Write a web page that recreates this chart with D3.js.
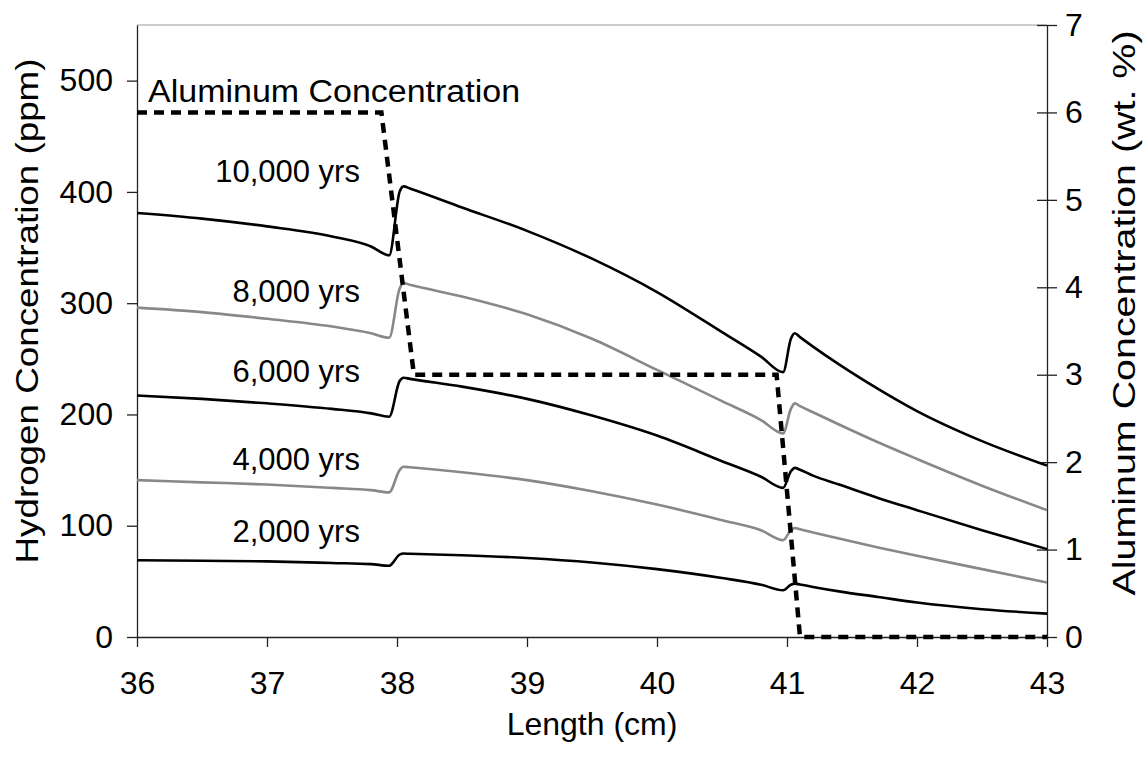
<!DOCTYPE html>
<html><head><meta charset="utf-8">
<script src="https://cdn.jsdelivr.net/npm/d3@7"></script>
<style>
body{margin:0;background:#fff}
text{font-family:"Liberation Sans",Arial,sans-serif;fill:#000}
</style>
</head><body>
<svg id="c" width="1148" height="759"></svg>
<script>
// ---- data ----
const xTicks = [36, 37, 38, 39, 40, 41, 42, 43];
const hTicks = [0, 100, 200, 300, 400, 500];
const alTicks = [0, 1, 2, 3, 4, 5, 6, 7];
const lengthCm = [36, 36.5, 37, 37.5, 37.8, 37.94, 38.02, 38.05, 38.1, 38.5, 39, 39.5, 40, 40.5, 40.8, 40.97, 41.03, 41.06, 41.1, 41.2, 41.4, 41.7, 42, 42.5, 43];
const h10000 = [381, 376, 369, 360, 351, 343, 400, 405, 403, 386, 365, 340, 310, 274, 252, 238, 268, 273, 269.5, 261, 245, 223, 203, 176, 154];
const h8000  = [296, 292, 286, 279, 273, 269, 313, 318, 316.5, 306, 290, 268, 240, 212, 195, 183, 205, 210, 207.5, 202, 191, 175, 160, 136, 114];
const h6000  = [217, 214, 210, 205, 201, 198, 230, 233, 232, 225, 214, 199, 181, 158, 144, 134, 149, 152, 150.3, 145, 137, 125, 114, 96, 79];
const h4000  = [141, 139, 137, 134, 132, 130, 150, 153, 152.5, 148, 141, 131, 119, 105, 96, 87, 96, 98, 96.8, 94, 88.5, 80.5, 73, 61, 49];
const h2000  = [69, 68.5, 68, 66.5, 65.5, 64, 74, 75, 74.8, 73.5, 71, 67, 61, 53, 47, 42, 47, 48, 47.2, 45, 41, 36, 31, 25, 21];
const seriesNames = ["10,000 yrs", "8,000 yrs", "6,000 yrs", "4,000 yrs", "2,000 yrs"];
const alLength = [36, 37.88, 38.13, 40.92, 41.1, 43];
const alWt = [6, 6, 3, 3, 0, 0];

// ---- layout ----
const svg = d3.select("#c");
const L = 137, R = 1047, T = 25, B = 637;
const x = d3.scaleLinear().domain([36, 43]).range([L, R]);
const yH = d3.scaleLinear().domain([0, 550]).range([B, T]);
const yA = d3.scaleLinear().domain([0, 7]).range([B, T]);

// frame top
svg.append("line").attr("x1", L).attr("x2", R).attr("y1", T).attr("y2", T)
  .attr("stroke", "#999").attr("stroke-width", 1.2);

const fs = 32;
const fmt = d3.format("d");
// x axis
const gx = svg.append("g").attr("transform", `translate(0,${B})`)
  .call(d3.axisBottom(x).tickValues(xTicks).tickFormat(fmt).tickSize(10).tickSizeOuter(0).tickPadding(24));
// left axis
const gl = svg.append("g").attr("transform", `translate(${L},0)`)
  .call(d3.axisLeft(yH).tickValues(hTicks).tickFormat(fmt).tickSize(10).tickSizeOuter(0).tickPadding(14));
// right axis (cross ticks)
const gr = svg.append("g").attr("transform", `translate(${R},0)`)
  .call(d3.axisRight(yA).tickValues(alTicks).tickFormat(fmt).tickSize(10).tickSizeOuter(0).tickPadding(8));
gr.selectAll(".tick line").attr("x1", -10);
[gx, gl, gr].forEach(g => {
  g.select(".domain").attr("stroke", "#222").attr("stroke-width", 1.3);
  g.selectAll(".tick line").attr("stroke", "#222").attr("stroke-width", 1.3);
  g.selectAll(".tick text").attr("font-size", fs).attr("fill", "#000");
});

// curves
const line = d3.line().x(d => x(d[0])).y(d => yH(d[1])).curve(d3.curveMonotoneX);
const series = [h10000, h8000, h6000, h4000, h2000];
const colors = ["#000", "#888", "#000", "#888", "#000"];
series.forEach((s, i) => {
  svg.append("path").datum(lengthCm.map((v, j) => [v, s[j]]))
    .attr("d", line).attr("fill", "none").attr("stroke", colors[i])
    .attr("stroke-width", 2.6).attr("stroke-linejoin", "round");
});

// aluminum line
const aLine = d3.line().x(d => x(d[0])).y(d => yA(d[1]));
svg.append("path").datum(alLength.map((v, j) => [v, alWt[j]]))
  .attr("d", aLine).attr("fill", "none").attr("stroke", "#000")
  .attr("stroke-width", 4.5).attr("stroke-dasharray", "10,7");

// series labels
const labelPos = [[37.715, 409], [37.715, 301], [37.715, 229], [37.715, 150], [37.715, 85]];
seriesNames.forEach((n, i) => {
  svg.append("text").attr("x", x(labelPos[i][0])).attr("y", yH(labelPos[i][1]))
    .attr("text-anchor", "end").attr("font-size", 31).text(n);
});
svg.append("text").attr("x", x(36.085)).attr("y", yA(6.12))
  .attr("font-size", 31).attr("textLength", 372).attr("lengthAdjust", "spacingAndGlyphs")
  .text("Aluminum Concentration");

// axis titles
svg.append("text").attr("x", (L + R) / 2).attr("y", 735).attr("text-anchor", "middle")
  .attr("font-size", fs).text("Length (cm)");
svg.append("text").attr("transform", `translate(38,311) rotate(-90)`).attr("text-anchor", "middle")
  .attr("font-size", 32).attr("textLength", 505).attr("lengthAdjust", "spacingAndGlyphs")
  .text("Hydrogen Concentration (ppm)");
svg.append("text").attr("transform", `translate(1135,313) rotate(-90)`).attr("text-anchor", "middle")
  .attr("font-size", 32).attr("textLength", 565).attr("lengthAdjust", "spacingAndGlyphs")
  .text("Aluminum Concentration (wt. %)");
</script>
</body></html>
